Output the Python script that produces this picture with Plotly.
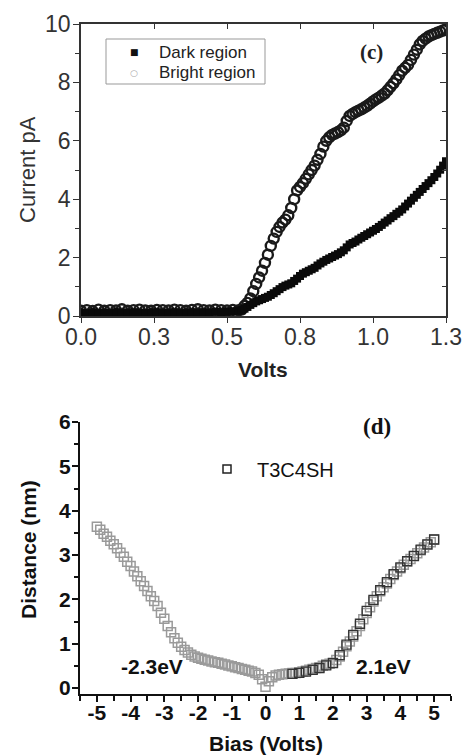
import plotly.graph_objects as go

W, H = 462, 756

# ---------- Panel (c) data ----------
volts = [0.00, 0.02, 0.04, 0.06, 0.08, 0.10, 0.12, 0.14, 0.16, 0.18,
         0.20, 0.22, 0.24, 0.26, 0.28, 0.30, 0.32, 0.34, 0.36, 0.38,
         0.40, 0.42, 0.44, 0.46, 0.48, 0.50, 0.52, 0.54,
         0.55, 0.56, 0.57, 0.58, 0.59, 0.60, 0.61, 0.62, 0.63, 0.64,
         0.65, 0.66, 0.67, 0.68, 0.69, 0.70, 0.71, 0.72, 0.73, 0.74,
         0.75, 0.76, 0.77, 0.78, 0.79, 0.80, 0.81, 0.82, 0.83, 0.84,
         0.85, 0.86, 0.87, 0.88, 0.89, 0.90, 0.91, 0.92, 0.93, 0.94,
         0.95, 0.96, 0.97, 0.98, 0.99, 1.00, 1.01, 1.02, 1.03, 1.04,
         1.05, 1.06, 1.07, 1.08, 1.09, 1.10, 1.11, 1.12, 1.13, 1.14,
         1.15, 1.16, 1.17, 1.18, 1.19, 1.20, 1.21, 1.22, 1.23, 1.24, 1.25]
dark_current = [0.12, 0.10, 0.13, 0.11, 0.12, 0.10, 0.13, 0.12, 0.11, 0.13,
                0.12, 0.10, 0.12, 0.13, 0.11, 0.12, 0.13, 0.12, 0.11, 0.13,
                0.12, 0.13, 0.12, 0.14, 0.13, 0.15, 0.16, 0.18,
                0.20, 0.25, 0.31, 0.38, 0.44, 0.50, 0.54, 0.58, 0.62, 0.66,
                0.72, 0.78, 0.85, 0.92, 0.99, 1.04, 1.08, 1.12, 1.20, 1.28,
                1.37, 1.45, 1.50, 1.55, 1.60, 1.65, 1.73, 1.80, 1.86, 1.92,
                1.97, 2.02, 2.07, 2.12, 2.18, 2.25, 2.35, 2.45, 2.50, 2.55,
                2.62, 2.68, 2.74, 2.80, 2.86, 2.92, 2.98, 3.05, 3.12, 3.20,
                3.27, 3.35, 3.42, 3.50, 3.57, 3.65, 3.75, 3.85, 3.95, 4.05,
                4.15, 4.25, 4.35, 4.45, 4.55, 4.65, 4.76, 4.88, 5.01, 5.15, 5.30]
bright_current = [0.18, 0.20, 0.17, 0.22, 0.18, 0.20, 0.19, 0.23, 0.18, 0.20,
                  0.22, 0.19, 0.18, 0.21, 0.20, 0.19, 0.22, 0.20, 0.18, 0.21,
                  0.23, 0.20, 0.19, 0.22, 0.20, 0.19, 0.21, 0.20,
                  0.22, 0.35, 0.45, 0.60, 0.85, 1.10, 1.32, 1.55, 1.82, 2.10,
                  2.40, 2.65, 2.88, 3.05, 3.20, 3.30, 3.45, 3.70, 4.00, 4.30,
                  4.42, 4.55, 4.70, 4.85, 5.00, 5.15, 5.35, 5.55, 5.80, 6.00,
                  6.12, 6.20, 6.25, 6.30, 6.36, 6.45, 6.68, 6.85, 6.92, 6.98,
                  7.03, 7.08, 7.14, 7.20, 7.27, 7.35, 7.42, 7.48, 7.55, 7.62,
                  7.73, 7.85, 7.97, 8.10, 8.25, 8.40, 8.50, 8.60, 8.77, 8.95,
                  9.12, 9.30, 9.42, 9.50, 9.57, 9.62, 9.66, 9.70, 9.74, 9.78, 9.82]
c_xticks = [0.0, 0.25, 0.5, 0.75, 1.0, 1.25]
c_xticktext = ["0.0", "0.3", "0.5", "0.8", "1.0", "1.3"]
c_yticks = [0, 2, 4, 6, 8, 10]
c_legend_labels = ["Dark region", "Bright region"]

# ---------- Panel (d) data ----------
bias = [-5.0, -4.9, -4.8, -4.7, -4.6, -4.5, -4.4, -4.3, -4.2, -4.1,
        -4.0, -3.9, -3.8, -3.7, -3.6, -3.5, -3.4, -3.3, -3.2, -3.1,
        -3.0, -2.9, -2.8, -2.7, -2.6, -2.5, -2.4, -2.3, -2.2, -2.1,
        -2.0, -1.9, -1.8, -1.7, -1.6, -1.5, -1.4, -1.3, -1.2, -1.1,
        -1.0, -0.9, -0.8, -0.7, -0.6, -0.5, -0.4, -0.3, -0.2, -0.1,
        0.0, 0.1, 0.2, 0.3, 0.4, 0.5, 0.6, 0.7, 0.8, 0.9,
        1.0, 1.1, 1.2, 1.3, 1.4, 1.5, 1.6, 1.7, 1.8, 1.9,
        2.0, 2.1, 2.2, 2.3, 2.4, 2.5, 2.6, 2.7, 2.8, 2.9,
        3.0, 3.1, 3.2, 3.3, 3.4, 3.5, 3.6, 3.7, 3.8, 3.9,
        4.0, 4.1, 4.2, 4.3, 4.4, 4.5, 4.6, 4.7, 4.8, 4.9, 5.0]
distance = [3.64, 3.57, 3.48, 3.41, 3.32, 3.24, 3.15, 3.05, 2.96, 2.85,
            2.75, 2.63, 2.52, 2.41, 2.30, 2.19, 2.07, 1.96, 1.85, 1.70,
            1.56, 1.40, 1.26, 1.12, 1.02, 0.93, 0.86, 0.80, 0.75, 0.71,
            0.68, 0.66, 0.64, 0.62, 0.60, 0.58, 0.57, 0.55, 0.53, 0.51,
            0.49, 0.47, 0.45, 0.43, 0.41, 0.39, 0.37, 0.34, 0.30, 0.20,
            0.03, 0.15, 0.24, 0.28, 0.30, 0.31, 0.32, 0.33, 0.34, 0.34,
            0.35, 0.37, 0.39, 0.41, 0.43, 0.45, 0.47, 0.50, 0.53, 0.55,
            0.57, 0.63, 0.71, 0.82, 0.94, 1.05, 1.16, 1.28, 1.40, 1.55,
            1.69, 1.82, 1.95, 2.07, 2.18, 2.27, 2.36, 2.46, 2.55, 2.63,
            2.70, 2.78, 2.85, 2.91, 2.97, 3.04, 3.11, 3.17, 3.23, 3.29, 3.35]
bias_dark = [0.8, 1.0, 1.2, 1.4, 1.6, 1.8, 2.0, 2.2, 2.4, 2.6, 2.8,
             3.0, 3.2, 3.4, 3.6, 3.8, 4.0, 4.2, 4.4, 4.6, 4.8, 5.0]
distance_dark = [0.32, 0.34, 0.37, 0.41, 0.45, 0.51, 0.56, 0.74, 0.98, 1.20, 1.45,
                 1.74, 1.99, 2.21, 2.39, 2.57, 2.72, 2.86, 2.98, 3.12, 3.24, 3.35]
d_xticks = [-5, -4, -3, -2, -1, 0, 1, 2, 3, 4, 5]
d_xticktext = ["-5", "-4", "-3", "-2", "-1", "0", "1", "2", "3", "4", "5"]
d_yticks = [0, 1, 2, 3, 4, 5, 6]

# ---------- layout geometry (pixels) ----------
def px_x(p):
    return p / W

def px_y(p):
    return 1 - p / H

c_left, c_right, c_top, c_bot = 81, 446, 24, 316
d_left, d_right, d_top, d_bot = 80, 451, 422, 694

FONT = "Liberation Sans, Arial, sans-serif"
SERIF = "Liberation Serif, Times New Roman, serif"

fig = go.Figure()

# Panel (c)
fig.add_trace(go.Scatter(x=volts, y=bright_current, mode="markers", name="Bright region",
                         marker=dict(symbol="circle-open", size=10, color="#1a1a1a",
                                     line=dict(width=2.4, color="#1a1a1a")),
                         xaxis="x", yaxis="y", showlegend=False, hoverinfo="skip"))
fig.add_trace(go.Scatter(x=volts, y=dark_current, mode="markers", name="Dark region",
                         marker=dict(symbol="square", size=8, color="#0a0a0a"),
                         xaxis="x", yaxis="y", showlegend=False, hoverinfo="skip"))
# helper trace for mirrored axes
fig.add_trace(go.Scatter(x=[None], y=[None], mode="markers", xaxis="x3", yaxis="y3",
                         showlegend=False, hoverinfo="skip"))

# Panel (d)
fig.add_trace(go.Scatter(x=bias, y=distance, mode="markers",
                         marker=dict(symbol="square-open", size=9, color="#9a9a9a",
                                     line=dict(width=1.5, color="#9a9a9a")),
                         xaxis="x2", yaxis="y2", showlegend=False, hoverinfo="skip"))
fig.add_trace(go.Scatter(x=bias_dark, y=distance_dark, mode="markers",
                         marker=dict(symbol="square-open", size=9, color="#333",
                                     line=dict(width=1.3, color="#333")),
                         xaxis="x2", yaxis="y2", showlegend=False, hoverinfo="skip"))
fig.add_trace(go.Scatter(x=[None], y=[None], mode="markers", name="T3C4SH",
                         marker=dict(symbol="square-open", size=8, color="#222",
                                     line=dict(width=1.5)),
                         xaxis="x2", yaxis="y2", legend="legend2"))

tickfont_c = dict(family=FONT, size=23, color="#333")
tickfont_d = dict(family=FONT, size=21, color="#111", weight="bold")

common = dict(showgrid=False, zeroline=False, automargin=False)

fig.update_layout(
    width=W, height=H,
    margin=dict(l=0, r=0, t=0, b=0, autoexpand=False),
    paper_bgcolor="white", plot_bgcolor="white",
    showlegend=True,
    xaxis=dict(domain=[px_x(c_left), px_x(c_right)], anchor="y", range=[0, 1.25],
               tickvals=c_xticks, ticktext=c_xticktext, ticks="outside", ticklen=5,
               tickwidth=1.3, tickcolor="#333", showline=True, linecolor="#333",
               linewidth=1.5, tickfont=tickfont_c, ticklabelstandoff=-5, **common),
    yaxis=dict(domain=[px_y(c_bot), px_y(c_top)], anchor="x", range=[0, 10],
               tickvals=c_yticks, ticks="outside", ticklen=6, tickwidth=1.3,
               tickcolor="#333", showline=True, linecolor="#333", linewidth=1.5,
               tickfont=tickfont_c, ticklabelstandoff=-2,
               minor=dict(dtick=1, ticks="outside", ticklen=4, tickcolor="#333"),
               **common),
    xaxis3=dict(overlaying="x", side="top", anchor="y", range=[0, 1.25],
                tickvals=c_xticks, ticks="inside", ticklen=5, tickwidth=1.3,
                tickcolor="#333", showline=True, linecolor="#333", linewidth=1.5,
                showticklabels=False, **common),
    yaxis3=dict(overlaying="y", side="right", anchor="x", range=[0, 10],
                tickvals=c_yticks, ticks="inside", ticklen=6, tickwidth=1.3,
                tickcolor="#333", showline=True, linecolor="#333", linewidth=1.5,
                showticklabels=False,
                minor=dict(dtick=1, ticks="inside", ticklen=4, tickcolor="#333"),
                **common),
    xaxis2=dict(domain=[px_x(d_left), px_x(d_right)], anchor="y2", range=[-5.5, 5.5],
                tickvals=d_xticks, ticktext=d_xticktext, ticks="outside", ticklen=6,
                tickwidth=1.5, tickcolor="#111", showline=True, linecolor="#111",
                linewidth=2, tickfont=tickfont_d, ticklabelstandoff=-7,
                minor=dict(dtick=0.5, ticks="outside", ticklen=5, tickcolor="#111",
                           tickwidth=1.5), **common),
    yaxis2=dict(domain=[px_y(d_bot), px_y(d_top)], anchor="x2", range=[-0.135, 6],
                tickvals=d_yticks, ticks="outside", ticklen=6, tickwidth=1.5,
                tickcolor="#111", showline=True, linecolor="#111", linewidth=2,
                tickfont=tickfont_d, ticklabelstandoff=-3,
                minor=dict(dtick=0.5, ticks="outside", ticklen=4, tickcolor="#111",
                           tickwidth=1.5), **common),
    legend2=dict(x=px_x(197), y=px_y(469), xanchor="left", yanchor="middle",
                 bgcolor="rgba(0,0,0,0)", borderwidth=0,
                 font=dict(family=FONT, size=20, color="#111"), itemwidth=50),
)

# manual legend for panel (c): box, symbols, labels
fig.add_shape(type="rect", xref="paper", yref="paper",
              x0=px_x(106), x1=px_x(265), y0=px_y(84), y1=px_y(39),
              line=dict(color="#999", width=1), fillcolor="white", layer="above")
legend_rows = [52, 73]
legend_syms = ["■", "○"]
legend_sym_colors = ["#111", "#aaa"]
legend_sym_sizes = [9, 9]
for lab, row, sym, col, ssz in zip(c_legend_labels, legend_rows, legend_syms,
                                   legend_sym_colors, legend_sym_sizes):
    fig.add_annotation(xref="paper", yref="paper", showarrow=False, text=sym,
                       x=px_x(134), y=px_y(row), xanchor="center", yanchor="middle",
                       font=dict(family="DejaVu Sans", size=ssz, color=col))
    fig.add_annotation(xref="paper", yref="paper", showarrow=False, text=lab,
                       x=px_x(157), y=px_y(row), xanchor="left", yanchor="middle",
                       font=dict(family=FONT, size=17, color="#222"))

annots = [
    dict(text="Volts", x=px_x(263), y=px_y(369), font=dict(family=FONT, size=21, color="#222", weight="bold")),
    dict(text="Current pA", x=px_x(27), y=px_y(170), textangle=-90, font=dict(family=FONT, size=22, color="#333")),
    dict(text="(c)", x=px_x(371), y=px_y(52), font=dict(family=SERIF, size=21, color="#222", weight="bold")),
    dict(text="Bias (Volts)", x=px_x(266), y=px_y(743), font=dict(family=FONT, size=21, color="#111", weight="bold")),
    dict(text="Distance (nm)", x=px_x(28), y=px_y(550), textangle=-90, font=dict(family=FONT, size=21, color="#111", weight="bold")),
    dict(text="(d)", x=px_x(377), y=px_y(427), font=dict(family=SERIF, size=23, color="#111", weight="bold")),
    dict(text="-2.3eV", x=px_x(152), y=px_y(666), font=dict(family=FONT, size=21, color="#111", weight="bold")),
    dict(text="2.1eV", x=px_x(383), y=px_y(666), font=dict(family=FONT, size=21, color="#111", weight="bold")),
]
for a in annots:
    fig.add_annotation(xref="paper", yref="paper", showarrow=False,
                       xanchor="center", yanchor="middle", **a)

fig.write_html("out.html", config={"displayModeBar": False},
               post_script="document.body.style.margin='0';document.body.style.padding='0';")
